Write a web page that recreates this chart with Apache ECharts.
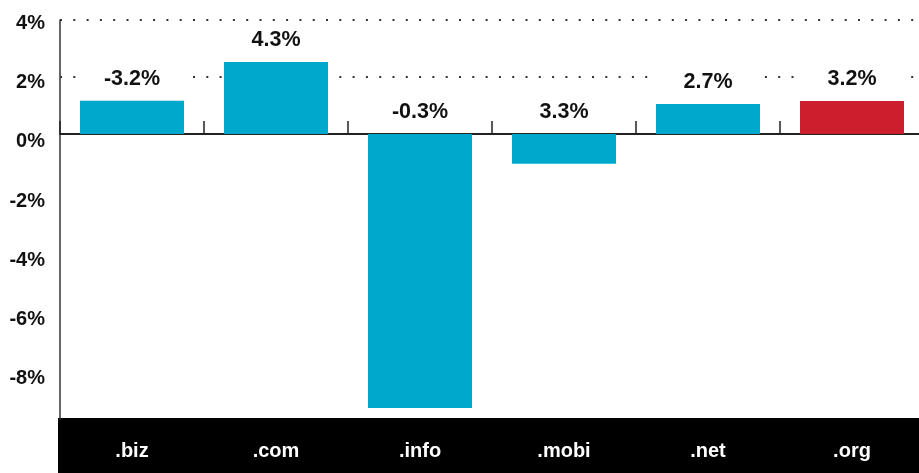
<!DOCTYPE html>
<html>
<head>
<meta charset="utf-8">
<script src="https://cdn.jsdelivr.net/npm/echarts@6/dist/echarts.min.js"></script>
<style>
  html, body { margin: 0; padding: 0; background: #fff; }
  #chart { width: 919px; height: 473px; }
</style>
</head>
<body>
<div id="chart"></div>
<script>
'use strict';
// the data
const categories = ['.biz', '.com', '.info', '.mobi', '.net', '.org'];
const barValues = [1.17, 2.53, -9.61, -1.04, 1.05, 1.16];
const labelTexts = ['-3.2%', '4.3%', '-0.3%', '3.3%', '2.7%', '3.2%'];
const highlight = '.org';

const BLUE = '#00a9cc';
const RED = '#cc1f2e';
const FONT = '"Liberation Sans", Arial, sans-serif';

var dom = document.getElementById('chart');
var myChart = echarts.init(dom, null, { renderer: 'canvas' });

var option = {
  animation: false,
  grid: [
    // bars (last category runs a little past the right edge)
    { left: 60, width: 864, top: 20, bottom: 54, outerBoundsMode: 'none', containLabel: false },
    // axis labels only
    { left: 60, width: 864, top: 23.7, height: 354.8, outerBoundsMode: 'none', containLabel: false }
  ],
  graphic: [{
    type: 'rect',
    z: 0,
    shape: { x: 58, y: 418, width: 861, height: 55 },
    style: { fill: '#000' }
  }],
  xAxis: [{
    type: 'category',
    gridIndex: 0,
    data: categories,
    boundaryGap: true,
    axisLine: { show: true, onZero: true, lineStyle: { color: '#222', width: 2 } },
    axisTick: { show: true, inside: true, alignWithLabel: false, interval: 0, length: 13, lineStyle: { color: '#222', width: 1.5 } },
    axisLabel: { show: false },
    splitLine: { show: false }
  }, {
    type: 'category',
    gridIndex: 1,
    data: categories,
    z: 10,
    axisLine: { show: false, onZero: false },
    axisTick: { show: false },
    axisLabel: {
      color: '#fff', fontFamily: FONT, fontWeight: 'bold', fontSize: 20,
      margin: 63
    }
  }],
  yAxis: [{
    type: 'value',
    gridIndex: 0,
    min: -10,
    max: 4,
    interval: 2,
    axisLine: { show: true, lineStyle: { color: '#333', width: 1.5 } },
    axisTick: { show: false },
    axisLabel: { show: false },
    splitLine: {
      show: true,
      lineStyle: {
        // only the 2% and 4% lines are drawn
        color: ['rgba(0,0,0,0)', 'rgba(0,0,0,0)', 'rgba(0,0,0,0)', 'rgba(0,0,0,0)',
                'rgba(0,0,0,0)', 'rgba(0,0,0,0)', '#333', '#333'],
        width: 2,
        type: [2, 11.3]
      }
    }
  }, {
    type: 'value',
    gridIndex: 1,
    min: -8,
    max: 4,
    interval: 2,
    axisLine: { show: false },
    axisTick: { show: false },
    splitLine: { show: false },
    axisLabel: {
      formatter: '{value}%',
      color: '#111', fontFamily: FONT, fontWeight: 'bold', fontSize: 20,
      margin: 15
    }
  }],
  series: [{
    type: 'bar',
    xAxisIndex: 0,
    yAxisIndex: 0,
    data: barValues,
    barWidth: 104,
    itemStyle: {
      color: function (p) { return categories[p.dataIndex] === highlight ? RED : BLUE; }
    },
    label: {
      show: true,
      position: 'top',
      distance: 11,
      formatter: function (p) { return labelTexts[p.dataIndex]; },
      color: '#111',
      fontFamily: FONT,
      fontWeight: 'bold',
      fontSize: 21.5,
      width: 104,
      lineHeight: 22,
      align: 'center',
      backgroundColor: '#fff'
    }
  }]
};

myChart.setOption(option, true);
</script>
</body>
</html>
